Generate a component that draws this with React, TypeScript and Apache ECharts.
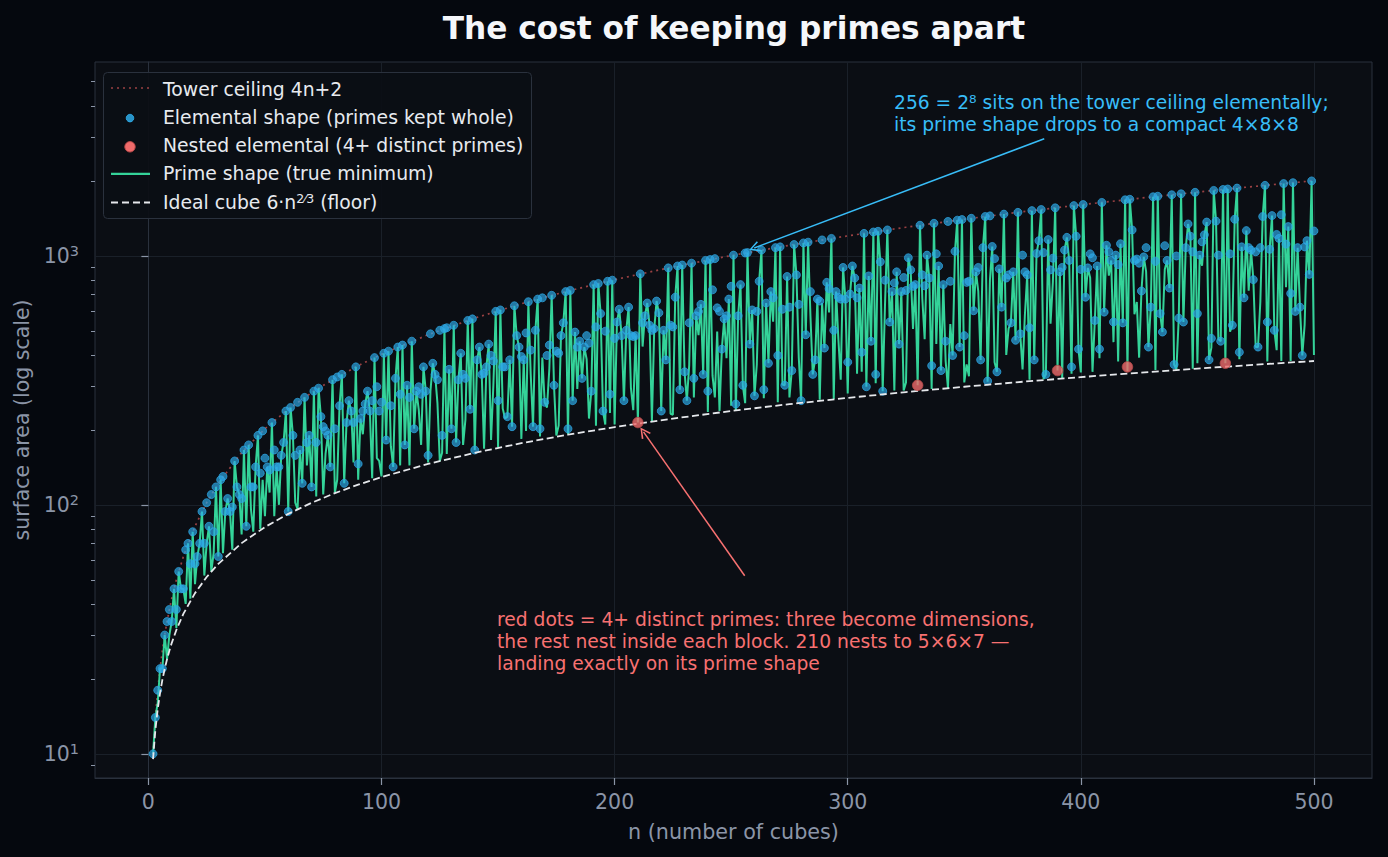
import { useEffect, useRef } from "react";
import * as echarts from "echarts";

// Surface area of the best box for n unit cubes, n = 2 … 500.
const FIRST_N = 2;

// Prime shape: the true minimum 2(ab+bc+ca) over all boxes a×b×c = n.
const primeShapeArea = [
  // 2–9
  10, 14, 16, 22, 22, 30, 24, 30,
  // 10–19
  34, 46, 32, 54, 46, 46, 40, 70, 42, 78,
  // 20–29
  48, 62, 70, 94, 52, 70, 82, 54, 64, 118,
  // 30–39
  62, 126, 64, 94, 106, 94, 66, 150, 118, 110,
  // 40–49
  76, 166, 82, 174, 96, 78, 142, 190, 80, 126,
  // 50–59
  90, 142, 112, 214, 90, 142, 100, 158, 178, 238,
  // 60–69
  94, 246, 190, 102, 96, 166, 122, 270, 144, 190,
  // 70–79
  118, 286, 108, 294, 226, 110, 160, 190, 142, 318,
  // 80–89
  112, 126, 250, 334, 122, 214, 262, 238, 148, 358,
  // 90–99
  126, 222, 192, 254, 286, 238, 128, 390, 154, 150,
  // 100–109
  130, 406, 182, 414, 172, 142, 322, 430, 144, 438,
  // 110–119
  174, 302, 144, 454, 202, 286, 240, 174, 358, 286,
  // 120–129
  148, 286, 370, 334, 256, 150, 162, 510, 160, 350,
  // 130–139
  202, 526, 178, 318, 406, 174, 220, 550, 242, 558,
  // 140–149
  166, 382, 430, 334, 168, 358, 442, 182, 304, 598,
  // 150–159
  170, 606, 244, 222, 226, 382, 206, 630, 478, 430,
  // 160–169
  184, 382, 198, 654, 336, 206, 502, 670, 188, 390,
  // 170–179
  258, 246, 352, 694, 302, 190, 208, 478, 538, 718,
  // 180–189
  192, 726, 262, 494, 292, 454, 322, 430, 384, 222,
  // 190–199
  286, 766, 208, 774, 586, 238, 210, 790, 234, 798,
  // 200–209
  210, 542, 610, 478, 262, 502, 622, 294, 240, 478,
  // 210–219
  214, 846, 432, 574, 646, 526, 216, 510, 658, 590,
  // 220–229
  238, 502, 382, 894, 232, 230, 682, 910, 290, 918,
  // 230–239
  342, 262, 364, 934, 270, 574, 480, 638, 334, 958,
  // 240–249
  236, 966, 330, 270, 496, 238, 422, 558, 388, 670,
  // 250–259
  250, 1006, 240, 574, 766, 302, 256, 1030, 442, 606,
  // 260–269
  274, 366, 790, 1054, 268, 646, 370, 718, 544, 1078,
  // 270–279
  258, 1086, 304, 302, 826, 270, 346, 1110, 838, 390,
  // 280–289
  262, 1126, 482, 1134, 576, 334, 382, 670, 264, 646,
  // 290–299
  426, 782, 592, 1174, 266, 718, 460, 318, 898, 670,
  // 300–309
  280, 702, 910, 814, 336, 742, 342, 1230, 298, 830,
  // 310–319
  454, 1246, 308, 1254, 946, 286, 640, 1270, 542, 718,
  // 320–329
  288, 862, 442, 718, 288, 310, 982, 878, 508, 766,
  // 330–339
  302, 1326, 672, 462, 1006, 814, 292, 1350, 442, 910,
  // 340–349
  346, 766, 378, 294, 532, 398, 1042, 1390, 430, 1398,
  // 350–359
  310, 366, 328, 1414, 602, 862, 720, 382, 1078, 1438,
  // 360–369
  312, 798, 1090, 374, 342, 886, 622, 1470, 400, 510,
  // 370–379
  538, 862, 458, 1494, 486, 350, 580, 838, 318, 1518,
  // 380–389
  382, 1022, 1150, 1534, 320, 334, 1162, 534, 784, 1558,
  // 390–399
  346, 862, 322, 1054, 1186, 958, 336, 1590, 1198, 422,
  // 400–409
  340, 1606, 682, 894, 816, 342, 550, 910, 388, 1638,
  // 410–419
  594, 1102, 832, 958, 450, 1006, 376, 1118, 538, 1678,
  // 420–429
  344, 1686, 1270, 582, 652, 390, 722, 990, 864, 430,
  // 430–439
  622, 1726, 348, 1734, 586, 494, 880, 958, 742, 1758,
  // 440–449
  366, 350, 562, 1774, 542, 1078, 1342, 1198, 352, 1798,
  // 450–459
  370, 1006, 912, 1214, 1366, 382, 428, 1830, 1378, 462,
  // 460–469
  454, 1846, 370, 1854, 496, 526, 1402, 1870, 384, 1086,
  // 470–479
  678, 1262, 724, 1054, 802, 430, 430, 654, 1438, 1918,
  // 480–489
  376, 1062, 1450, 502, 418, 1174, 378, 1950, 748, 1310,
  // 490–499
  378, 1966, 598, 1078, 622, 398, 528, 1150, 842, 1998,
  // 500
  400,
];

// Elemental shape: every prime power stays whole as one dimension.
// null where n has 4+ distinct primes (those are listed as nested below).
const elementalArea = [
  // 2–9
  10, 14, 18, 22, 22, 30, 34, 38,
  // 10–19
  34, 46, 38, 54, 46, 46, 66, 70, 58, 78,
  // 20–29
  58, 62, 70, 94, 70, 102, 82, 110, 78, 118,
  // 30–39
  62, 126, 130, 94, 106, 94, 98, 150, 118, 110,
  // 40–49
  106, 166, 82, 174, 118, 118, 142, 190, 134, 198,
  // 50–59
  154, 142, 138, 214, 166, 142, 142, 158, 178, 238,
  // 60–69
  94, 246, 190, 158, 258, 166, 122, 270, 178, 190,
  // 70–79
  118, 286, 178, 294, 226, 206, 198, 190, 142, 318,
  // 80–89
  202, 326, 250, 334, 122, 214, 262, 238, 214, 358,
  // 90–99
  146, 222, 238, 254, 286, 238, 262, 390, 298, 238,
  // 100–109
  258, 406, 182, 414, 250, 142, 322, 430, 278, 438,
  // 110–119
  174, 302, 270, 454, 202, 286, 298, 278, 358, 286,
  // 120–129
  158, 486, 370, 334, 318, 502, 190, 510, 514, 350,
  // 130–139
  202, 526, 178, 318, 406, 334, 322, 550, 242, 558,
  // 140–149
  166, 382, 430, 334, 338, 358, 442, 398, 378, 598,
  // 150–159
  262, 606, 358, 358, 226, 382, 206, 630, 478, 430,
  // 160–169
  394, 382, 490, 654, 418, 206, 502, 670, 202, 678,
  // 170–179
  258, 398, 438, 694, 302, 414, 406, 478, 538, 718,
  // 180–189
  202, 726, 262, 494, 430, 454, 322, 430, 478, 446,
  // 190–199
  286, 766, 518, 774, 586, 238, 498, 790, 278, 798,
  // 200–209
  466, 542, 610, 478, 262, 502, 622, 478, 474, 478,
  // 210–219
  null, 846, 538, 574, 646, 526, 502, 510, 658, 590,
  // 220–229
  238, 502, 382, 894, 526, 518, 682, 910, 290, 918,
  // 230–239
  342, 262, 538, 934, 322, 574, 598, 638, 334, 958,
  // 240–249
  286, 966, 730, 974, 618, 598, 422, 558, 574, 670,
  // 250–259
  754, 1006, 254, 574, 766, 302, 1026, 1030, 442, 606,
  // 260–269
  274, 598, 790, 1054, 290, 646, 370, 718, 678, 1078,
  // 270–279
  398, 1086, 610, 302, 826, 622, 346, 1110, 838, 638,
  // 280–289
  262, 1126, 482, 1134, 718, 334, 382, 670, 658, 1158,
  // 290–299
  426, 782, 738, 1174, 502, 718, 682, 670, 898, 670,
  // 300–309
  374, 702, 910, 814, 678, 742, 410, 1230, 298, 830,
  // 310–319
  454, 1246, 334, 1254, 946, 286, 798, 1270, 542, 718,
  // 320–329
  778, 862, 442, 718, 818, 726, 982, 878, 754, 766,
  // 330–339
  null, 1326, 838, 758, 1006, 814, 362, 1350, 1018, 910,
  // 340–349
  346, 766, 454, 1374, 790, 398, 1042, 1390, 430, 1398,
  // 350–359
  478, 782, 790, 1414, 602, 862, 898, 382, 1078, 1438,
  // 360–369
  314, 1446, 1090, 974, 342, 886, 622, 1470, 814, 838,
  // 370–379
  538, 862, 458, 1494, 486, 1006, 862, 838, 514, 1518,
  // 380–389
  382, 1022, 1150, 1534, 1030, 334, 1162, 878, 978, 1558,
  // 390–399
  null, 862, 898, 1054, 1186, 958, 358, 1590, 1198, 422,
  // 400–409
  882, 1606, 682, 894, 1018, 982, 550, 910, 422, 1638,
  // 410–419
  594, 1102, 1038, 958, 542, 1006, 922, 1118, 538, 1678,
  // 420–429
  null, 1686, 1270, 958, 970, 934, 722, 990, 1078, 430,
  // 430–439
  622, 1726, 950, 1734, 586, 494, 1098, 958, 742, 1758,
  // 440–449
  366, 998, 562, 1774, 542, 1078, 1342, 1198, 1038, 1798,
  // 450–459
  586, 1006, 1138, 1214, 1366, 382, 466, 1830, 1378, 1006,
  // 460–469
  454, 1846, null, 1854, 1018, 526, 1402, 1870, 410, 1086,
  // 470–479
  678, 1262, 1078, 1054, 802, 1038, 430, 1078, 1438, 1918,
  // 480–489
  542, 1062, 1450, 502, 1218, 1174, 1462, 1950, 1114, 1310,
  // 490–499
  706, 1966, 598, 1078, 622, 398, 1086, 1150, 842, 1998,
  // 500
  1258,
];

// Nested elemental shapes for n with 4+ distinct primes.
const nestedN = [210, 330, 390, 420, 462];
const nestedArea = [214, 302, 346, 358, 370];

// Tower ceiling 4n+2 (1×1×n), sampled along n.
const ceilingN = [2, 3, 4, 5, 6, 7, 8, 9, 10, 12, 15, 20, 25, 30, 40, 50, 60, 70, 80, 90, 100, 120, 140, 160, 180, 200, 225, 250, 275, 300, 325, 350, 375, 400, 425, 450, 475, 500];
const ceilingArea = [10, 14, 18, 22, 26, 30, 34, 38, 42, 50, 62, 82, 102, 122, 162, 202, 242, 282, 322, 362, 402, 482, 562, 642, 722, 802, 902, 1002, 1102, 1202, 1302, 1402, 1502, 1602, 1702, 1802, 1902, 2002];

// Ideal cube 6·n^(2/3), sampled along n.
const cubeN = [2, 3, 4, 5, 6, 7, 8, 9, 10, 12, 15, 20, 25, 30, 40, 50, 60, 70, 80, 90, 100, 120, 140, 160, 180, 200, 225, 250, 275, 300, 325, 350, 375, 400, 425, 450, 475, 500];
const cubeArea = [9.52, 12.48, 15.12, 17.54, 19.81, 21.96, 24.0, 25.96, 27.85, 31.45, 36.49, 44.21, 51.3, 57.93, 70.18, 81.43, 91.96, 101.91, 111.4, 120.5, 129.26, 145.97, 161.77, 176.83, 191.28, 205.2, 221.96, 238.11, 253.73, 268.88, 283.62, 297.99, 312.01, 325.73, 339.17, 352.34, 365.27, 377.98];

const xTicks = [0, 100, 200, 300, 400, 500];
const yTicks = [10, 100, 1000];
const yMinorTicks = [9, 20, 30, 40, 50, 60, 70, 80, 90, 200, 300, 400, 500, 600, 700, 800, 900, 2000, 3000, 4000, 5000];

const FONT = "'DejaVu Sans', 'Noto Sans', sans-serif";
const PAGE_BG = "#05080e";
const PLOT_BG = "#0b0e14";
const SPINE = "#2a313d";
const GRID = "#1a2029";
const MUTED = "#8b95a7";
const GREEN = "#34d399";
const DOT_BLUE = "rgba(46,170,232,0.85)";
const DOT_RED = "#ef6b6b";
const CEIL = "#9a4143";
const CUBE = "#e6e8ec";
const NOTE_BLUE = "#38bdf8";
const NOTE_RED = "#f87171";

// Open chevron used as an arrow head on the annotation lines.
const ARROW_HEAD = "path://M0,10 L5,0 L10,10 L8.6,10.7 L5,3 L1.4,10.7 Z";

export default function App() {
  const ref = useRef<HTMLDivElement>(null);

  useEffect(() => {
    if (!ref.current) return;
    const chart = echarts.init(ref.current, null, { renderer: "svg" });

    const nValues = primeShapeArea.map((_, i) => FIRST_N + i);
    const primeData = nValues.map((n, i) => [n, primeShapeArea[i]]);
    const elementalData = nValues
      .map((n, i) => [n, elementalArea[i]])
      .filter((d) => d[1] !== null);
    const nestedData = nestedN.map((n, i) => [n, nestedArea[i]]);
    const ceilingData = ceilingN.map((n, i) => [n, ceilingArea[i]]);
    const cubeData = cubeN.map((n, i) => [n, cubeArea[i]]);

    const legendRows = [89.5, 117.6, 145.8, 173.9, 202];
    const legendTextX = 163;
    const LEGEND_FS = 18.8;
    const legendText = (y: number, text: string) => ({
      type: "text",
      x: legendTextX,
      y,
      z: 101,
      style: {
        text,
        fill: "#e7eaef",
        fontSize: LEGEND_FS,
        fontFamily: FONT,
        verticalAlign: "middle",
        align: "left",
      },
    });

    const option: any = {
      animation: false,
      backgroundColor: PAGE_BG,
      textStyle: { fontFamily: FONT },
      title: {
        text: "The cost of keeping primes apart",
        left: 734,
        top: 12,
        padding: 0,
        textAlign: "center",
        textStyle: {
          color: "#f5f7fa",
          fontSize: 31.2,
          fontWeight: "bold",
          fontFamily: FONT,
        },
      },
      grid: {
        left: 95,
        right: 16,
        top: 62,
        bottom: 79,
        show: true,
        backgroundColor: PLOT_BG,
        borderColor: SPINE,
        borderWidth: 1,
        containLabel: false,
        outerBoundsMode: "none",
      },
      xAxis: {
        type: "value",
        min: -22.9,
        max: 524.9,
        name: "n (number of cubes)",
        nameLocation: "middle",
        nameGap: 43,
        nameTextStyle: { color: MUTED, fontSize: 20.7, fontFamily: FONT },
        axisLine: { show: true, lineStyle: { color: SPINE, width: 1 } },
        axisTick: {
          show: true,
          length: 7,
          customValues: xTicks,
          lineStyle: { color: MUTED, width: 1.2 },
        },
        axisLabel: {
          customValues: xTicks,
          color: MUTED,
          fontSize: 20.5,
          fontFamily: FONT,
          margin: 13,
        },
        splitLine: { show: true, lineStyle: { color: GRID, width: 1 } },
      },
      yAxis: [
        {
          type: "log",
          logBase: 10,
          min: 8,
          max: 6000,
          position: "left",
          name: "surface area (log scale)",
          nameLocation: "middle",
          nameGap: 60,
          nameTextStyle: { color: MUTED, fontSize: 20.5, fontFamily: FONT },
          axisLine: { show: true, lineStyle: { color: SPINE, width: 1 } },
          axisTick: {
            show: true,
            length: 7,
            customValues: yTicks,
            lineStyle: { color: MUTED, width: 1.2 },
          },
          axisLabel: {
            customValues: yTicks,
            margin: 16,
            formatter: (v: number) => `{b|10}{s|${Math.round(Math.log10(v))}}`,
            rich: {
              b: { color: MUTED, fontSize: 20.5, lineHeight: 24, fontFamily: FONT },
              s: {
                color: MUTED,
                fontSize: 14.5,
                lineHeight: 14,
                verticalAlign: "top",
                fontFamily: FONT,
              },
            },
          },
          splitLine: { show: true, lineStyle: { color: GRID, width: 1 } },
        },
        {
          // minor log ticks only
          type: "log",
          logBase: 10,
          min: 8,
          max: 6000,
          position: "left",
          axisLine: { show: false },
          axisTick: {
            show: true,
            length: 4,
            customValues: yMinorTicks,
            lineStyle: { color: MUTED, width: 1 },
          },
          axisLabel: { show: false },
          splitLine: { show: false },
        },
      ],
      series: [
        {
          name: "Tower ceiling 4n+2",
          type: "line",
          data: ceilingData,
          symbol: "none",
          z: 1,
          lineStyle: { color: CEIL, width: 1.7, type: [2, 4] },
          silent: true,
          markLine: {
            silent: true,
            symbol: ["none", ARROW_HEAD],
            symbolSize: [11, 11],
            label: { show: false },
            lineStyle: { width: 1.5, type: "solid" },
            data: [
              [
                { coord: [384.3, 2951], lineStyle: { color: NOTE_BLUE, width: 1.5, type: "solid" } },
                { coord: [259.9, 1075] },
              ],
              [
                { coord: [255.8, 51.9], lineStyle: { color: NOTE_RED, width: 1.5, type: "solid" } },
                { coord: [212.4, 196.3] },
              ],
            ],
          },
        },
        {
          name: "Prime shape (true minimum)",
          type: "line",
          data: primeData,
          symbol: "none",
          z: 2,
          lineStyle: { color: GREEN, width: 2 },
          silent: true,
        },
        {
          name: "Elemental shape (primes kept whole)",
          type: "scatter",
          data: elementalData,
          symbol: "circle",
          symbolSize: 8,
          z: 3,
          itemStyle: { color: DOT_BLUE, borderColor: DOT_BLUE, borderWidth: 1 },
          silent: true,
        },
        {
          name: "Ideal cube 6·n²⁄³ (floor)",
          type: "line",
          data: cubeData,
          symbol: "none",
          z: 4,
          lineStyle: { color: CUBE, width: 1.8, type: [7, 3.5] },
          silent: true,
        },
        {
          name: "Nested elemental (4+ distinct primes)",
          type: "scatter",
          data: nestedData,
          symbol: "circle",
          symbolSize: 10.5,
          z: 5,
          itemStyle: { color: DOT_RED, borderColor: "#b84848", borderWidth: 1 },
          silent: true,
        },
      ],
      graphic: [
        // legend box
        {
          type: "rect",
          z: 100,
          shape: { x: 103.5, y: 72.5, width: 428, height: 146, r: 4 },
          style: { fill: "rgba(11,14,20,0.93)", stroke: SPINE, lineWidth: 1 },
        },
        {
          type: "line",
          z: 101,
          shape: { x1: 111, y1: legendRows[0] - 1.5, x2: 150, y2: legendRows[0] - 1.5 },
          style: { stroke: CEIL, lineWidth: 1.7, lineDash: [2, 4] },
        },
        {
          type: "circle",
          z: 101,
          shape: { cx: 130, cy: legendRows[1] + 0.5, r: 3.8 },
          style: { fill: DOT_BLUE, stroke: DOT_BLUE, lineWidth: 1 },
        },
        {
          type: "circle",
          z: 101,
          shape: { cx: 130, cy: legendRows[2] + 1, r: 5.2 },
          style: { fill: DOT_RED, stroke: "#b84848", lineWidth: 1 },
        },
        {
          type: "line",
          z: 101,
          shape: { x1: 111, y1: legendRows[3], x2: 150, y2: legendRows[3] },
          style: { stroke: GREEN, lineWidth: 2.2 },
        },
        {
          type: "line",
          z: 101,
          shape: { x1: 111, y1: legendRows[4] + 0.5, x2: 150, y2: legendRows[4] + 0.5 },
          style: { stroke: CUBE, lineWidth: 2, lineDash: [7, 4] },
        },
        legendText(legendRows[0], "Tower ceiling 4n+2"),
        legendText(legendRows[1], "Elemental shape (primes kept whole)"),
        legendText(legendRows[2], "Nested elemental (4+ distinct primes)"),
        legendText(legendRows[3], "Prime shape (true minimum)"),
        {
          type: "text",
          x: legendTextX,
          y: legendRows[4],
          z: 101,
          style: {
            text: "{t|Ideal cube 6·n}{s|2⁄3}{t| (floor)}",
            fill: "#e7eaef",
            fontFamily: FONT,
            verticalAlign: "middle",
            align: "left",
            rich: {
              t: { fill: "#e7eaef", fontSize: LEGEND_FS, lineHeight: 20, fontFamily: FONT },
              s: { fill: "#e7eaef", fontSize: 12.5, lineHeight: 12, verticalAlign: "top", fontFamily: FONT },
            },
          },
        },
        // annotations
        {
          type: "text",
          x: 894,
          y: 92,
          z: 50,
          style: {
            text: "256 = 2⁸ sits on the tower ceiling elementally;\nits prime shape drops to a compact 4×8×8",
            fill: NOTE_BLUE,
            fontSize: 18.7,
            lineHeight: 21.8,
            fontFamily: FONT,
            verticalAlign: "top",
            align: "left",
          },
        },
        {
          type: "text",
          x: 497,
          y: 609,
          z: 50,
          style: {
            text: "red dots = 4+ distinct primes: three become dimensions,\nthe rest nest inside each block. 210 nests to 5×6×7 —\nlanding exactly on its prime shape",
            fill: NOTE_RED,
            fontSize: 18.7,
            lineHeight: 21.8,
            fontFamily: FONT,
            verticalAlign: "top",
            align: "left",
          },
        },
      ],
    };

    chart.setOption(option);
    return () => chart.dispose();
  }, []);

  return (
    <div
      ref={ref}
      style={{ position: "fixed", left: 0, top: 0, width: 1388, height: 857 }}
    />
  );
}
